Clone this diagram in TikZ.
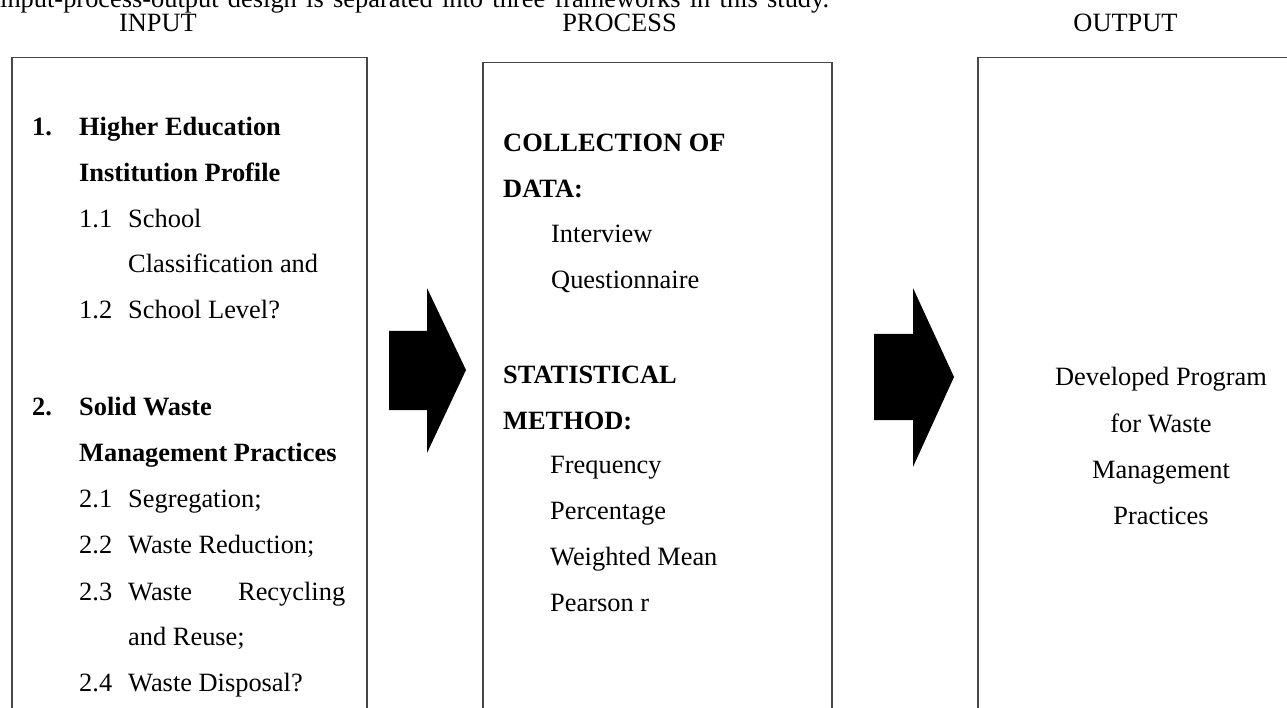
\documentclass[tikz,border=0pt]{standalone}
\usepackage{fontspec}
\setmainfont{Liberation Serif}
\begin{document}
\begin{tikzpicture}[x=1pt,y=-1pt,
  frame/.style={draw=black!72, line width=1.5pt, inner sep=0pt, anchor=north west},
  txt/.style={anchor=base west, inner sep=0pt, font=\fontsize{26.4}{30}\selectfont},
  btxt/.style={txt, font=\fontsize{26.4}{30}\selectfont\bfseries},
  ctxt/.style={txt, anchor=base},
  blockarrow/.style={fill=black, draw=none}]
\useasboundingbox (0,0) rectangle (1287,708);
\clip (0,0) rectangle (1287,708);

% cut-off sentence at the top
\node[txt] (intro) at (0,8) {\hbox to 829pt{input-process-output design is separated into three frameworks in this study.}};

% headers
\node[ctxt] (hin) at (158,32) {INPUT};
\node[ctxt] (hpr) at (619.5,32) {PROCESS};
\node[ctxt] (hout) at (1125.5,32) {OUTPUT};

% boxes
\node[frame, minimum width=355pt, minimum height=700pt] (inbox) at (11,57) {};
\node[frame, minimum width=349pt, minimum height=700pt] (prbox) at (482,62) {};
\node[frame, minimum width=340pt, minimum height=700pt] (outbox) at (977,57) {};

% block arrows
\coordinate (a1) at (389,331);
\fill[blockarrow] (a1) -- (427,331) -- (427,288) -- (466,370) -- (427,453) -- (427,410) -- (389,410) -- cycle;
\coordinate (a2) at (874,334);
\fill[blockarrow] (a2) -- (913,334) -- (913,288) -- (954,377) -- (913,467) -- (913,420) -- (874,420) -- cycle;

% input text
\node[btxt] (n1) at (32,135.7) {1.};
\node[btxt] (t1a) at (79,135.7) {Higher Education};
\node[btxt] (t1b) at (79,181.7) {Institution Profile};
\node[txt] (n11) at (79,227.7) {1.1};
\node[txt] (t11a) at (128,227.7) {School};
\node[txt] (t11b) at (128,273) {Classification and};
\node[txt] (n12) at (79,319) {1.2};
\node[txt] (t12) at (128,319) {School Level?};
\node[btxt] (n2) at (32,415) {2.};
\node[btxt] (t2a) at (79,415) {Solid Waste};
\node[btxt] (t2b) at (79,461.7) {Management Practices};
\node[txt] (n21) at (79,507) {2.1};
\node[txt] (t21) at (128,507) {Segregation;};
\node[txt] (n22) at (79,553) {2.2};
\node[txt] (t22) at (128,553) {Waste Reduction;};
\node[txt] (n23) at (79,600) {2.3};
\node[txt] (t23a) at (128,600) {\hbox to 217pt{Waste\hfill Recycling}};
\node[txt] (t23b) at (128,645) {and Reuse;};
\node[txt] (n24) at (79,691.7) {2.4};
\node[txt] (t24) at (128,691.7) {Waste Disposal?};

% process text
\node[btxt] (p1) at (503,152) {COLLECTION OF};
\node[btxt] (p2) at (503,198) {DATA:};
\node[txt] (p3) at (551,243) {Interview};
\node[txt] (p4) at (551,289) {Questionnaire};
\node[btxt] (p5) at (503,383) {STATISTICAL};
\node[btxt] (p6) at (503,429) {METHOD:};
\node[txt] (p7) at (550,473) {Frequency};
\node[txt] (p8) at (550,519) {Percentage};
\node[txt] (p9) at (550,565) {Weighted Mean};
\node[txt] (p10) at (550,611) {Pearson r};

% output text
\node[ctxt] (o1) at (1161,385) {Developed Program};
\node[ctxt] (o2) at (1161,432) {for Waste};
\node[ctxt] (o3) at (1161,478) {Management};
\node[ctxt] (o4) at (1161,524) {Practices};
\end{tikzpicture}
\end{document}
